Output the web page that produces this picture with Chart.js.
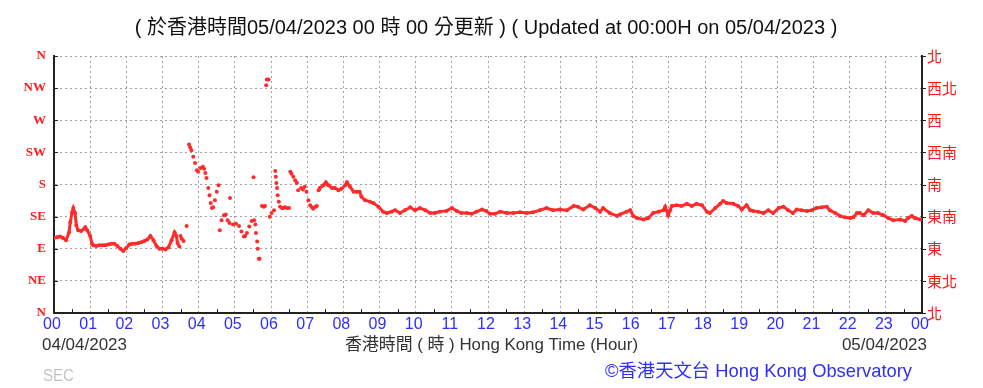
<!DOCTYPE html>
<html>
<head>
<meta charset="utf-8">
<script src="https://cdn.jsdelivr.net/npm/chart.js@4.4.0/dist/chart.umd.min.js"></script>
<style>
html,body{margin:0;padding:0;background:#fff;}
#wrap{width:983px;height:388px;position:relative;}
</style>
</head>
<body>
<div id="wrap"><canvas id="c" width="983" height="388"></canvas></div>
<script>
// ---- tick labels ----
const DIR_VALUES = [0, 45, 90, 135, 180, 225, 270, 315, 360];
const DIR_LABELS_EN = ['N', 'NE', 'E', 'SE', 'S', 'SW', 'W', 'NW', 'N'];
const DIR_LABELS_ZH = ['北', '東北', '東', '東南', '南', '西南', '西', '西北', '北'];
const HOUR_LABELS = ['00','01','02','03','04','05','06','07','08','09','10','11','12',
                     '13','14','15','16','17','18','19','20','21','22','23','00'];

// ---- texts ----
const TITLE = '( 於香港時間05/04/2023 00 時 00 分更新 ) ( Updated at 00:00H on 05/04/2023 )';
const X_TITLE = '香港時間 ( 時 ) Hong Kong Time (Hour)';
const DATE_START = '04/04/2023';
const DATE_END = '05/04/2023';
const STATION = 'SEC';
const CREDIT = '©香港天文台 Hong Kong Observatory';

// ---- series: minutes after 00:00 on 04/04/2023, wind direction in degrees ----
// early continuous trace (00:00 - 03:30)
const minutesA = [0,5,10,15,20,25,27,30,32,35,37,40,45,50,52,55,60,63,65,70,75,80,85,90,95,
  100,105,110,115,120,125,130,135,140,145,150,155,160,165,170,175,180,185,190,195,200,203,205,208];
const dirA = [105,106,107,105,102,113,127,141,147,140,123,116,115,118,120,116,108,97,95,94,95,95,95,96,97,
  97,94,90,87,91,96,97,97,98,99,101,103,108,102,94,90,90,89,92,102,113,108,98,93];

// scattered readings (03:30 - 07:20)
const minutesB = [210,212,215,220,
  224,226,228,231,234,237,239,243,247,249,251,253,256,258,260,262,264,267,270,273,
  275,278,282,285,288,291,292,297,302,307,311,315,317,320,324,328,331,332,334,335,337,338,340,341,
  345,348,350,352,353,356,358,361,365,
  367,368,369,370,371,373,375,378,380,383,386,390,
  392,394,397,400,403,405,410,413,416,419,422,425,428,430,434,436];
const dirB = [108,104,101,122,
  236,232,228,219,210,200,198,203,205,202,196,189,175,165,154,147,148,158,170,179,
  116,130,137,138,130,126,161,124,125,122,114,107,108,112,121,129,190,130,124,112,100,90,76,76,
  150,149,150,319,327,327,135,140,144,
  199,191,182,175,165,156,149,147,147,148,147,147,
  198,195,191,186,182,172,175,173,177,170,158,151,148,146,149,150];

// late continuous trace (07:20 - 24:00)
const minutesC = [439,441,447,451,455,461,466,472,477,483,486,491,497,502,507,510,516,524,530,538,
  546,552,560,566,574,582,591,599,607,616,624,632,640,651,660,668,676,685,693,701,
  710,717,723,732,740,751,762,773,784,795,806,817,828,839,851,862,869,878,889,898,
  906,911,922,934,939,950,956,961,967,978,986,994,1003,1011,1014,1019,1022,1025,1033,1041,
  1050,1058,1066,1075,1083,1088,1097,1105,1110,1116,1127,1135,1141,1149,1155,1160,1168,1177,1185,1193,
  1202,1210,1218,1226,1232,1240,1249,1257,1265,1274,1282,1287,1296,1304,1312,1321,1326,1332,1337,1343,
  1351,1359,1367,1376,1384,1392,1404,1412,1417,1423,1428,1437];
const dirC = [172,175,179,183,179,175,175,172,174,179,183,177,170,170,170,163,158,156,154,149,
  142,140,142,144,140,144,148,144,147,144,140,140,142,143,147,143,140,140,139,142,
  145,143,139,139,142,140,140,141,140,141,144,147,144,145,144,150,149,145,151,147,
  142,147,140,136,138,142,144,136,133,131,133,140,142,144,149,137,144,150,151,150,
  153,150,153,151,142,140,147,153,157,154,153,150,145,151,144,143,142,140,144,140,
  147,149,144,140,145,144,143,144,147,148,149,144,140,136,134,133,134,140,140,137,
  144,140,140,137,133,130,131,129,133,136,133,131];

const RED = '#ff2b2b';
const BLUE = '#2e2eff';
const pts = (m, d) => m.map((v, i) => ({x: v, y: d[i]}));

const deco = {
  id: 'deco',
  afterDraw(chart) {
    const c = chart.ctx, ca = chart.chartArea, xs = chart.scales.x, ys = chart.scales.y;
    c.save();
    // small tick marks
    c.strokeStyle = '#222';
    c.lineWidth = 1;
    c.beginPath();
    DIR_VALUES.forEach(v => {
      const py = Math.round(ys.getPixelForValue(v)) + 0.5;
      c.moveTo(ca.left, py); c.lineTo(ca.left + 4, py);
      c.moveTo(ca.right, py); c.lineTo(ca.right + 4, py);
    });
    for (let m = 30; m < 1440; m += 60) {
      const px = Math.round(xs.getPixelForValue(m)) + 0.5;
      c.moveTo(px, ca.bottom); c.lineTo(px, ca.bottom - 4);
    }
    c.stroke();
    // texts
    c.textBaseline = 'middle';
    c.fillStyle = '#111';
    c.textAlign = 'center';
    c.font = '20px "Liberation Sans","Noto Sans CJK TC",sans-serif';
    c.fillText(TITLE, 486, 28, 705);
    c.fillStyle = '#333';
    c.font = '17px "Liberation Sans","Noto Sans CJK TC",sans-serif';
    c.textAlign = 'left';
    c.fillText(DATE_START, 42, 345, 85);
    c.textAlign = 'right';
    c.fillText(DATE_END, 927, 345, 87);
    c.textAlign = 'center';
    c.font = '17px "Liberation Sans","Noto Sans CJK TC",sans-serif';
    c.fillText(X_TITLE, 491.5, 345, 293);
    c.fillStyle = '#c4c4c4';
    c.textAlign = 'left';
    c.font = '16px "Liberation Sans",sans-serif';
    c.fillText(STATION, 43, 377, 31);
    c.fillStyle = BLUE;
    c.font = '18.5px "Liberation Sans","Noto Sans CJK TC",sans-serif';
    c.fillText(CREDIT, 605, 372, 307);
    c.restore();
  }
};

new Chart(document.getElementById('c'), {
  type: 'scatter',
  data: {
    datasets: [
      {data: pts(minutesA, dirA), showLine: true, borderColor: RED, borderWidth: 3,
       pointRadius: 2, pointBackgroundColor: RED, pointBorderWidth: 0},
      {data: pts(minutesB, dirB), showLine: false,
       pointRadius: 2, pointBackgroundColor: RED, pointBorderWidth: 0},
      {data: pts(minutesC, dirC), showLine: true, borderColor: RED, borderWidth: 3,
       pointRadius: 2, pointBackgroundColor: RED, pointBorderWidth: 0}
    ]
  },
  options: {
    responsive: false,
    animation: false,
    layout: {padding: {top: 56, left: 0, right: 0, bottom: 0}},
    plugins: {legend: {display: false}, tooltip: {enabled: false}, title: {display: false}},
    scales: {
      x: {
        type: 'linear', min: 0, max: 1440,
        afterFit: s => { s.height = 75; },
        ticks: {
          stepSize: 60, autoSkip: false, maxRotation: 0, minRotation: 0, padding: 2,
          labelOffset: -2,
          color: BLUE, font: {family: '"Liberation Sans", sans-serif', size: 16},
          callback: (v) => HOUR_LABELS[Math.round(v / 60)]
        },
        grid: {color: '#a0a0a0', lineWidth: 1, drawTicks: false},
        border: {display: true, color: '#222', width: 2, dash: [2, 3]}
      },
      y: {
        type: 'linear', position: 'left', min: 0, max: 360,
        afterFit: s => { s.width = 54; },
        ticks: {
          stepSize: 45, autoSkip: false, padding: 8,
          color: '#ff1a1a', font: {family: '"Liberation Serif",serif', size: 13, weight: 'bold'},
          callback: (v) => DIR_LABELS_EN[DIR_VALUES.indexOf(v)]
        },
        grid: {color: '#a0a0a0', lineWidth: 1, drawTicks: false},
        border: {display: true, color: '#222', width: 2, dash: [2, 3]}
      },
      y2: {
        type: 'linear', position: 'right', min: 0, max: 360,
        afterFit: s => { s.width = 61; },
        ticks: {
          stepSize: 45, autoSkip: false, padding: 5,
          color: '#ff1a1a', font: {family: '"Noto Sans CJK TC", sans-serif', size: 15},
          callback: (v) => DIR_LABELS_ZH[DIR_VALUES.indexOf(v)]
        },
        grid: {display: false, drawTicks: false},
        border: {display: true, color: '#222', width: 2}
      }
    }
  },
  plugins: [deco]
});
</script>
</body>
</html>
